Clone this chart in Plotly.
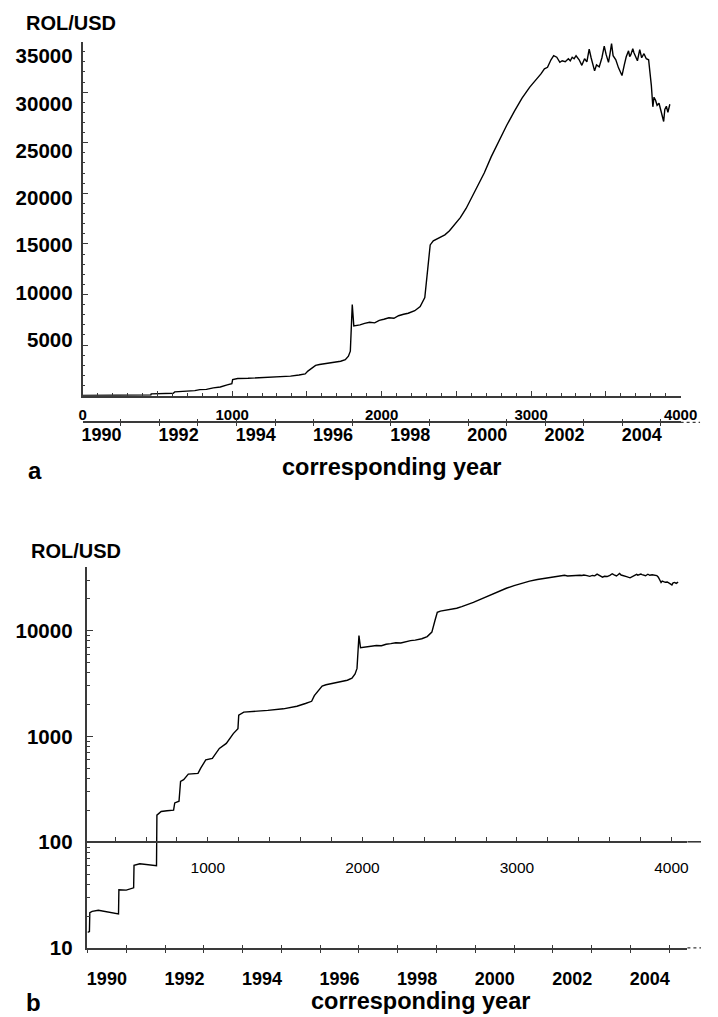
import plotly.graph_objects as go

W, H = 718, 1017

# ROL/USD exchange rate, fractional year vs. lei per US dollar
YEARS = [
    1990.00, 1990.05, 1990.06, 1990.12, 1990.28, 1990.45, 1990.62, 1990.80,
    1990.81, 1991.00, 1991.19, 1991.20, 1991.35, 1991.55, 1991.78, 1991.79,
    1991.90, 1992.05, 1992.22, 1992.25, 1992.36, 1992.40, 1992.48, 1992.60,
    1992.85, 1992.92, 1993.05, 1993.22, 1993.40, 1993.58, 1993.76, 1993.88,
    1993.90, 1994.03, 1994.30, 1994.65, 1995.05, 1995.40, 1995.62, 1995.78,
    1995.85, 1996.05, 1996.15, 1996.30, 1996.50, 1996.70, 1996.82, 1996.90,
    1996.95, 1996.98, 1997.00, 1997.04, 1997.20, 1997.32, 1997.45, 1997.58,
    1997.70, 1997.82, 1997.95, 1998.08, 1998.20, 1998.33, 1998.45, 1998.62,
    1998.76, 1998.88, 1998.96, 1999.02, 1999.10, 1999.18, 1999.25, 1999.33,
    1999.40, 1999.52, 1999.65, 1999.80, 1999.95, 2000.10, 2000.25, 2000.42,
    2000.60, 2000.80, 2001.00, 2001.20, 2001.40, 2001.60, 2001.72, 2001.80,
    2001.89, 2001.98, 2002.06, 2002.15, 2002.22, 2002.30, 2002.38, 2002.44,
    2002.52, 2002.60, 2002.65, 2002.70, 2002.75, 2002.80, 2002.88, 2002.95,
    2003.02, 2003.08, 2003.14, 2003.19, 2003.24, 2003.28, 2003.33, 2003.40,
    2003.47, 2003.53, 2003.58, 2003.64, 2003.68, 2003.72, 2003.76, 2003.83,
    2003.90, 2003.99, 2004.05, 2004.10, 2004.16, 2004.19, 2004.22, 2004.27,
    2004.30, 2004.33, 2004.39, 2004.45, 2004.50, 2004.56, 2004.62, 2004.68,
    2004.72, 2004.75, 2004.79, 2004.82, 2004.86, 2004.90, 2004.95, 2005.00,
    2005.04, 2005.07, 2005.10, 2005.14, 2005.18, 2005.23,
]
RATE = [
    14.0, 14.3, 21.6, 22.2, 22.7, 22.1, 21.6, 21.0,
    35.5, 35.2, 37.0, 60.5, 62.5, 61.5, 60.0, 180,
    195, 198, 201, 235, 244, 376, 390, 440,
    447, 501, 600, 621, 771, 859, 1064, 1186,
    1590, 1700, 1720, 1765, 1825, 1930, 2050, 2150,
    2430, 3000, 3080, 3150, 3250, 3400, 3550, 3900,
    4400, 6600, 9000, 6900, 7000, 7150, 7250, 7200,
    7450, 7550, 7700, 7650, 7900, 8050, 8150, 8400,
    8800, 9700, 12500, 14900, 15300, 15450, 15600, 15700,
    15900, 16300, 16900, 17600, 18500, 19600, 20700, 22000,
    23600, 25200, 26700, 28100, 29400, 30500, 31000, 31400,
    31800, 32300, 32450, 33200, 33600, 33450, 32950, 33100,
    33000, 33300, 33100, 33450, 33300, 33600, 33200, 32650,
    33300, 33000, 34250, 33400, 32600, 32100, 32700, 32500,
    33400, 34550, 33700, 32940, 33800, 34800, 33600, 33200,
    32400, 31640, 32700, 33500, 34080, 33500, 33700, 34300,
    33900, 33600, 33100, 34200, 33400, 33800, 33300, 33200,
    32000, 30700, 28550, 29500, 29200, 28700, 28900, 28200,
    27400, 27100, 28300, 28600, 28000, 28800,
]

YEAR_TICKS = list(range(1990, 2006))
YEAR_LABELS = [str(y) for y in range(1990, 2005, 2)]
YEAR_LABEL_POS = [y + 0.5 for y in range(1990, 2005, 2)]

INDEX_A_TICKS = list(range(0, 4001, 500))
INDEX_A_LABELS = [str(v) if v % 1000 == 0 else "" for v in INDEX_A_TICKS]
INDEX_B_TICKS = list(range(400, 4001, 200))
INDEX_B_LABELS = [str(v) if v % 1000 == 0 else "" for v in INDEX_B_TICKS]

LIN_TICKS = list(range(0, 35001, 5000))
LIN_LABEL_VALS = list(range(5000, 35001, 5000))
LIN_LABELS = [str(v) for v in LIN_LABEL_VALS]

LOG_TICKS = [10, 100, 1000, 10000]
LOG_LABELS = ["10", "100", "1000", "10000"]
LOG_MINOR = [m * d for d in (10, 100, 1000) for m in range(2, 10)] + [20000, 30000, 40000]

FONT = "Liberation Sans, Arial, Helvetica, sans-serif"
AX = "#3a3a3a"


def fx(px):
    return px / W


def fy(py):
    return 1 - py / H


def bold(size):
    return dict(family=FONT, size=size, color="black", weight="bold")


common = dict(showgrid=False, zeroline=False, fixedrange=True)

fig = go.Figure()
fig.add_trace(go.Scatter(x=YEARS, y=RATE, xaxis="x", yaxis="y", mode="lines",
                         line=dict(color="black", width=1.4), hoverinfo="skip",
                         showlegend=False))
fig.add_trace(go.Scatter(x=YEARS, y=RATE, xaxis="x4", yaxis="y3", mode="lines",
                         line=dict(color="black", width=1.4), hoverinfo="skip",
                         showlegend=False))
# empty traces so that the auxiliary axes (index scales, label scale, tick overlays) are drawn
for xa, ya in (("x2", "y"), ("x3", "y"), ("x", "y2"), ("x5", "y3"), ("x6", "y3")):
    fig.add_trace(go.Scatter(x=[], y=[], xaxis=xa, yaxis=ya, mode="lines",
                             hoverinfo="skip", showlegend=False))

# panel (a): linear scale
yr_a = [1990 + (81 - 80.5) / 39.75, 1990 + (697 - 80.5) / 39.75]
# panel (b): logarithmic scale
yr_b = [1990.0, 1990 + (704 - 86) / 39.95]
idx_b = [(86 - 50.8) / 0.1592, (704 - 50.8) / 0.1592]

fig.update_layout(
    width=W, height=H, margin=dict(l=0, r=0, t=0, b=0),
    paper_bgcolor="white", plot_bgcolor="white",
    xaxis=dict(domain=[fx(81), fx(697)], range=yr_a, anchor="free", position=fy(427),
               showline=True, linecolor=AX, linewidth=1.6,
               tickmode="array", tickvals=YEAR_LABEL_POS, ticktext=YEAR_LABELS,
               ticks="outside", ticklen=0, tickcolor=AX,
               minor=dict(tickmode="array", tickvals=YEAR_TICKS, ticks="outside",
                          ticklen=3, tickcolor=AX, tickwidth=1.3),
               tickfont=bold(18), ticklabelstandoff=-4, **common),
    xaxis2=dict(overlaying="x", anchor="y", range=[0, 4000],
                showline=True, linecolor=AX, linewidth=1.6,
                tickmode="array", tickvals=INDEX_A_TICKS, ticktext=INDEX_A_LABELS,
                ticks="inside", ticklen=5, tickcolor=AX, tickwidth=1.3,
                minor=dict(tickmode="linear", tick0=0, dtick=100, ticks="inside",
                           ticklen=3, tickcolor=AX, tickwidth=1.2),
                tickfont=bold(15), ticklabelstandoff=5, **common),
    xaxis3=dict(overlaying="x", anchor="free", position=fy(427), range=yr_a,
                showline=False, tickmode="array", tickvals=YEAR_TICKS,
                ticks="inside", ticklen=3, tickcolor=AX, tickwidth=1.3,
                showticklabels=False, **common),
    yaxis=dict(domain=[fy(400), fy(42)], range=[0, 35000], anchor="x",
               showline=True, linecolor=AX, linewidth=1.6,
               tickmode="array", tickvals=LIN_TICKS, ticks="inside", ticklen=6,
               tickcolor=AX, tickwidth=1.3, showticklabels=False,
               minor=dict(tickmode="linear", tick0=0, dtick=1000, ticks="inside",
                          ticklen=3, tickcolor=AX, tickwidth=1.2),
               **common),
    yaxis2=dict(overlaying="y", anchor="x", range=[-898, 36538], showline=False,
                tickmode="array", tickvals=LIN_LABEL_VALS, ticktext=LIN_LABELS,
                ticks="", tickfont=bold(20.5), ticklabelstandoff=9, **common),
    xaxis4=dict(domain=[fx(86), fx(704)], range=yr_b, anchor="y3",
                showline=True, linecolor=AX, linewidth=1.6,
                tickmode="array", tickvals=YEAR_LABEL_POS, ticktext=YEAR_LABELS,
                ticks="outside", ticklen=0, tickcolor=AX,
                minor=dict(tickmode="array", tickvals=YEAR_TICKS, ticks="outside",
                           ticklen=3, tickcolor=AX, tickwidth=1.3),
                tickfont=bold(18), ticklabelstandoff=14, **common),
    xaxis5=dict(overlaying="x4", anchor="free", position=fy(851), range=idx_b,
                showline=True, linecolor=AX, linewidth=1.6,
                tickmode="array", tickvals=INDEX_B_TICKS, ticktext=INDEX_B_LABELS,
                ticks="inside", ticklen=4, tickcolor=AX, tickwidth=1.3,
                tickfont=dict(family=FONT, size=15.5, color="black"),
                ticklabelstandoff=12, **common),
    xaxis6=dict(overlaying="x4", anchor="y3", range=yr_b, showline=False,
                tickmode="array", tickvals=YEAR_TICKS, ticks="inside", ticklen=3,
                tickcolor=AX, tickwidth=1.3, showticklabels=False, **common),
    yaxis3=dict(type="log", domain=[fy(958.3), fy(572.7)], range=[1, 4.607],
                anchor="x4", showline=True, linecolor=AX, linewidth=1.6,
                tickmode="array", tickvals=LOG_TICKS, ticktext=LOG_LABELS,
                ticks="inside", ticklen=6, tickcolor=AX, tickwidth=1.3,
                minor=dict(tickmode="array", tickvals=LOG_MINOR, ticks="inside",
                           ticklen=3, tickcolor=AX, tickwidth=1.2),
                tickfont=bold(20.5), ticklabelstandoff=9, **common),
)

# dotted continuation of the year axes, and the tail of the index axis in (b)
fig.add_shape(type="line", xref="paper", yref="paper", x0=fx(697), x1=fx(717),
              y0=fy(427), y1=fy(427), line=dict(color=AX, width=1.2, dash="dot"))
fig.add_shape(type="line", xref="paper", yref="paper", x0=fx(704), x1=fx(718),
              y0=fy(958.3), y1=fy(958.3), line=dict(color=AX, width=1.2, dash="dot"))
fig.add_shape(type="line", xref="paper", yref="paper", x0=fx(704), x1=fx(718),
              y0=fy(851), y1=fy(851), line=dict(color=AX, width=1.6))

texts = [
    ("ROL/USD", 69, 23, 20),
    ("a", 32, 476, 24),
    ("corresponding year", 399, 472, 23.5),
    ("ROL/USD", 74, 557, 20),
    ("b", 30, 1013, 24),
    ("corresponding year", 429, 1012, 23.5),
]
for txt, x, y, s in texts:
    fig.add_annotation(text=txt, xref="paper", yref="paper", x=fx(x), y=fy(y),
                       xanchor="center", yanchor="middle", showarrow=False,
                       font=bold(s))

fig.write_html("out.html")
